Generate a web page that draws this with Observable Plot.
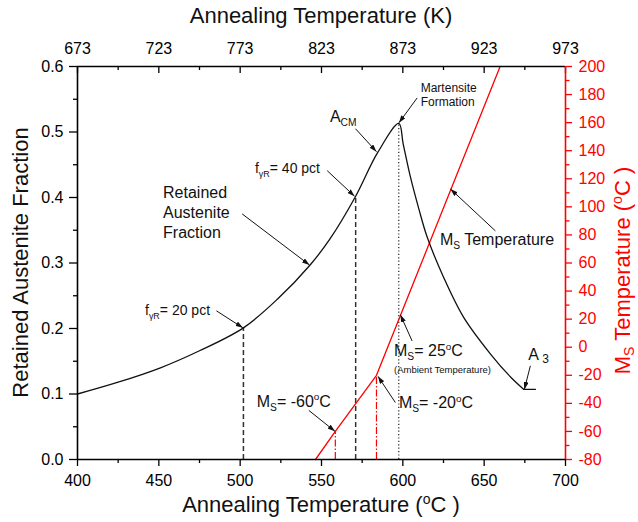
<!DOCTYPE html>
<html>
<head>
<meta charset="utf-8">
<script src="https://cdn.jsdelivr.net/npm/d3@7"></script>
<script src="https://cdn.jsdelivr.net/npm/@observablehq/plot@0.6"></script>
<style>
  html, body { margin: 0; padding: 0; background: #fff; }
  #chart svg { display: block; }
  text { white-space: pre; }
</style>
</head>
<body>
<div id="chart"></div>
<script>
// ---------- data ----------
// Retained austenite fraction vs annealing temperature (°C)
const raT = [400, 425, 451, 475, 502, 523, 543, 555, 571, 584.4, 597.5, 600.2, 604.7, 609.8, 614.9, 625.1, 637.4, 653.9, 666.2, 674.4];
const raF = [0.100, 0.118, 0.140, 0.166, 0.201, 0.245, 0.297, 0.336, 0.402, 0.468, 0.513, 0.482, 0.431, 0.383, 0.340, 0.278, 0.217, 0.161, 0.126, 0.107];
// A3 plateau
const a3T = [674.4, 681.5];
const a3F = [0.107, 0.107];
// Ms temperature (°C) vs annealing temperature (°C)
const msT = [546.3, 558.5, 583.8, 659.8];
const msV = [-80, -60, -20, 200];
// reference verticals
const fracGuideT = [502, 571];          // f = 20 pct, 40 pct
const fracGuideF = [0.201, 0.402];
const peakGuideT = [597.5];             // martensite formation
const peakGuideF = [0.513];
const msGuideT = [558.5, 583.8];        // Ms = -60, -20
const msGuideV = [-60, -20];
// ticks
const xMajor = [400, 450, 500, 550, 600, 650, 700];
const xMinor = [425, 475, 525, 575, 625, 675];
const kLabels = [673, 723, 773, 823, 873, 923, 973];
const yMajor = [0, 0.1, 0.2, 0.3, 0.4, 0.5, 0.6];
const yMinor = [0.05, 0.15, 0.25, 0.35, 0.45, 0.55];
const msMajor = [-80, -60, -40, -20, 0, 20, 40, 60, 80, 100, 120, 140, 160, 180, 200];
const msMinor = [-70, -50, -30, -10, 10, 30, 50, 70, 90, 110, 130, 150, 170, 190];
// annotations (anchor in data units: annealing °C, fraction)
const noteText = ["Retained", "Austenite", "Fraction", "f_{γR}= 20 pct", "f_{γR}= 40 pct", "A_{CM}",
  "Martensite", "Formation", "M_{S} Temperature", "M_{S}= 25^{o}C", "(Ambient Temperature)",
  "M_{S}= -20^{o}C", "M_{S}= -60^{o}C", "A_{ 3}"];
const noteT = [452.9, 452.9, 452.9, 441.8, 509.4, 555.5, 611.3, 611.3, 623.1, 594.9, 594.9, 597.9, 510.5, 677.4];
const noteF = [0.398, 0.368, 0.337, 0.220, 0.437, 0.515, 0.561, 0.539, 0.327, 0.157, 0.131, 0.078, 0.080, 0.151];
const arrowFromT = [501.2, 485.4, 553.5, 570.9, 608.8, 656.9, 605.7, 595.4, 542.2, 678.4];
const arrowFromF = [0.375, 0.227, 0.441, 0.505, 0.552, 0.349, 0.181, 0.087, 0.075, 0.143];
const arrowToT = [542.6, 501.7, 570.3, 583.8, 597.6, 629.3, 598.5, 584.7, 558.3, 674.7];
const arrowToF = [0.297, 0.201, 0.402, 0.470, 0.514, 0.413, 0.221, 0.127, 0.043, 0.107];

// ---------- helpers ----------
const msToF = v => (v + 80) / 280 * 0.6;
const fToMs = f => f / 0.6 * 280 - 80;
const zip = (a, b) => a.map((v, i) => ({x: v, y: b[i]}));

const ra = zip(raT, raF);
const a3 = zip(a3T, a3F);
const ms = zip(msT, msV.map(msToF));
const fracGuides = zip(fracGuideT, fracGuideF);
const peakGuides = zip(peakGuideT, peakGuideF);
const msGuides = zip(msGuideT, msGuideV.map(msToF));
const arrows = arrowFromT.map((t, i) => ({x1: t, y1: arrowFromF[i], x2: arrowToT[i], y2: arrowToF[i]}));

const W = 638, H = 522;
const mL = 77, mR = 73, mT = 66, mB = 63;
const plotH = H - mT - mB;
const RED = "#ff0000";
const FONT = "'Liberation Sans', Arial, sans-serif";

const chart = Plot.plot({
  width: W, height: H,
  marginLeft: mL, marginRight: mR, marginTop: mT, marginBottom: mB,
  x: {domain: [400, 700]},
  y: {domain: [0, 0.6]},
  style: {fontFamily: FONT, fontSize: "16px", background: "#fff", color: "#000", overflow: "visible"},
  marks: [
    // guides
    Plot.ruleX(fracGuides, {x: "x", y1: 0, y2: "y", stroke: "#333", strokeWidth: 1.5, strokeDasharray: "5,3"}),
    Plot.ruleX(peakGuides, {x: "x", y1: 0, y2: "y", stroke: "#222", strokeWidth: 1.2, strokeDasharray: "1.2,2.2"}),
    Plot.ruleX(msGuides, {x: "x", y1: 0, y2: "y", stroke: RED, strokeWidth: 1.2, strokeDasharray: "7,2,1.5,2"}),
    // curves
    Plot.line(ms, {x: "x", y: "y", stroke: RED, strokeWidth: 1.3}),
    Plot.line(ra, {x: "x", y: "y", stroke: "#111", strokeWidth: 1.3, curve: "catmull-rom"}),
    Plot.line(a3, {x: "x", y: "y", stroke: "#111", strokeWidth: 1.3}),
    // annotation arrows
    Plot.link(arrows, {x1: "x1", y1: "y1", x2: "x2", y2: "y2", stroke: "#111", strokeWidth: 1}),
    // bottom axis
    Plot.axisX(xMajor, {anchor: "bottom", tickSize: 7, tickPadding: 8, strokeWidth: 1.3, fontSize: 16, label: null, tickFormat: d => String(d)}),
    Plot.axisX(xMinor, {anchor: "bottom", tickSize: 4, strokeWidth: 1.3, label: null, tickFormat: () => ""}),
    // top axis (Kelvin), ticks inward
    Plot.axisX(xMajor, {anchor: "top", tickSize: 0, tickPadding: 13, fontSize: 16, label: null, tickFormat: d => String(kLabels[xMajor.indexOf(d)])}),
    Plot.tickX(xMajor, {insetBottom: plotH - 7, stroke: "#000", strokeWidth: 1.3}),
    Plot.tickX(xMinor, {insetBottom: plotH - 4, stroke: "#000", strokeWidth: 1.3}),
    // left axis
    Plot.axisY(yMajor, {anchor: "left", tickSize: 8, tickPadding: 6, strokeWidth: 1.3, fontSize: 16, label: null, tickFormat: d => d.toFixed(1)}),
    Plot.axisY(yMinor, {anchor: "left", tickSize: 4, strokeWidth: 1.3, label: null, tickFormat: () => ""}),
    // right axis (Ms, red)
    Plot.axisY(msMajor.map(msToF), {anchor: "right", tickSize: 6, tickPadding: 7, strokeWidth: 1.3, fontSize: 16, color: RED, label: null, tickFormat: d => String(Math.round(fToMs(d)))}),
    Plot.axisY(msMinor.map(msToF), {anchor: "right", tickSize: 3.5, strokeWidth: 1.3, color: RED, label: null, tickFormat: () => ""}),
    // frame
    Plot.ruleY([0.6], {stroke: "#000", strokeWidth: 1.6}),
    Plot.ruleY([0], {stroke: "#000", strokeWidth: 1.6}),
    Plot.ruleX([400], {stroke: "#000", strokeWidth: 1.6}),
    Plot.ruleX([700], {stroke: RED, strokeWidth: 1.6})
  ]
});

document.getElementById("chart").appendChild(chart);

// ---------- rich text (sub/superscripts) ----------
const svg = d3.select(chart);
const xs = chart.scale("x"), ys = chart.scale("y");

const defs = svg.append("defs");
defs.append("marker")
  .attr("id", "ahead").attr("viewBox", "0 0 10 10").attr("preserveAspectRatio", "none")
  .attr("refX", 10).attr("refY", 5).attr("markerWidth", 7.5).attr("markerHeight", 5)
  .attr("markerUnits", "userSpaceOnUse").attr("orient", "auto")
  .append("path").attr("d", "M0,0L10,5L0,10z").attr("fill", "#111");
svg.selectAll('g[aria-label="link"] path').attr("marker-end", "url(#ahead)");

function rich(parent, x, y, spec, o) {
  const t = parent.append("text").attr("x", x).attr("y", y)
    .attr("font-size", o.size).attr("fill", o.color || "#111")
    .attr("text-anchor", o.anchor || "start").attr("font-family", FONT);
  if (o.rotate) t.attr("transform", `rotate(${o.rotate} ${x} ${y})`);
  const re = /([_^])\{([^}]*)\}|([^_^]+)/g;
  let m, cur = 0;
  while ((m = re.exec(spec)) !== null) {
    let txt, size, target;
    if (m[3] !== undefined) { txt = m[3]; size = o.size; target = 0; }
    else if (m[1] === "_") { txt = m[2]; size = o.subSize; target = o.subShift; }
    else { txt = m[2]; size = o.supSize; target = -o.supShift; }
    t.append("tspan").attr("dy", target - cur).attr("font-size", size).text(txt);
    cur = target;
  }
  return t;
}

const gText = svg.append("g").attr("class", "notes");
const noteSize = [16, 16, 16, 14, 14, 16, 12, 12, 16, 16, 9.5, 16, 16, 16];
noteText.forEach((s, i) => {
  const size = noteSize[i];
  const isA3 = s.startsWith("A_{ ");
  rich(gText, xs.apply(noteT[i]), ys.apply(noteF[i]), s, {
    size,
    subSize: isA3 ? 12 : size * 0.64, subShift: isA3 ? 3 : size * 0.27,
    supSize: size * 0.62, supShift: size * 0.4
  });
});

// axis titles
const [x0, x1] = xs.range;
const [yb, yt] = ys.range;
const cx = (x0 + x1) / 2, cy = (yb + yt) / 2;
rich(gText, cx, 23, "Annealing Temperature (K)", {size: 22, anchor: "middle"});
rich(gText, cx, 512, "Annealing Temperature (^{o}C )", {size: 22, anchor: "middle", supSize: 14, supShift: 8});
rich(gText, 28, cy, "Retained Austenite Fraction", {size: 22, anchor: "middle", rotate: -90});
rich(gText, 630, cy + 8, "M_{S} Temperature (^{o}C )", {size: 22, anchor: "middle", rotate: -90, color: RED,
  subSize: 14, subShift: 4, supSize: 14, supShift: 8});
</script>
</body>
</html>
